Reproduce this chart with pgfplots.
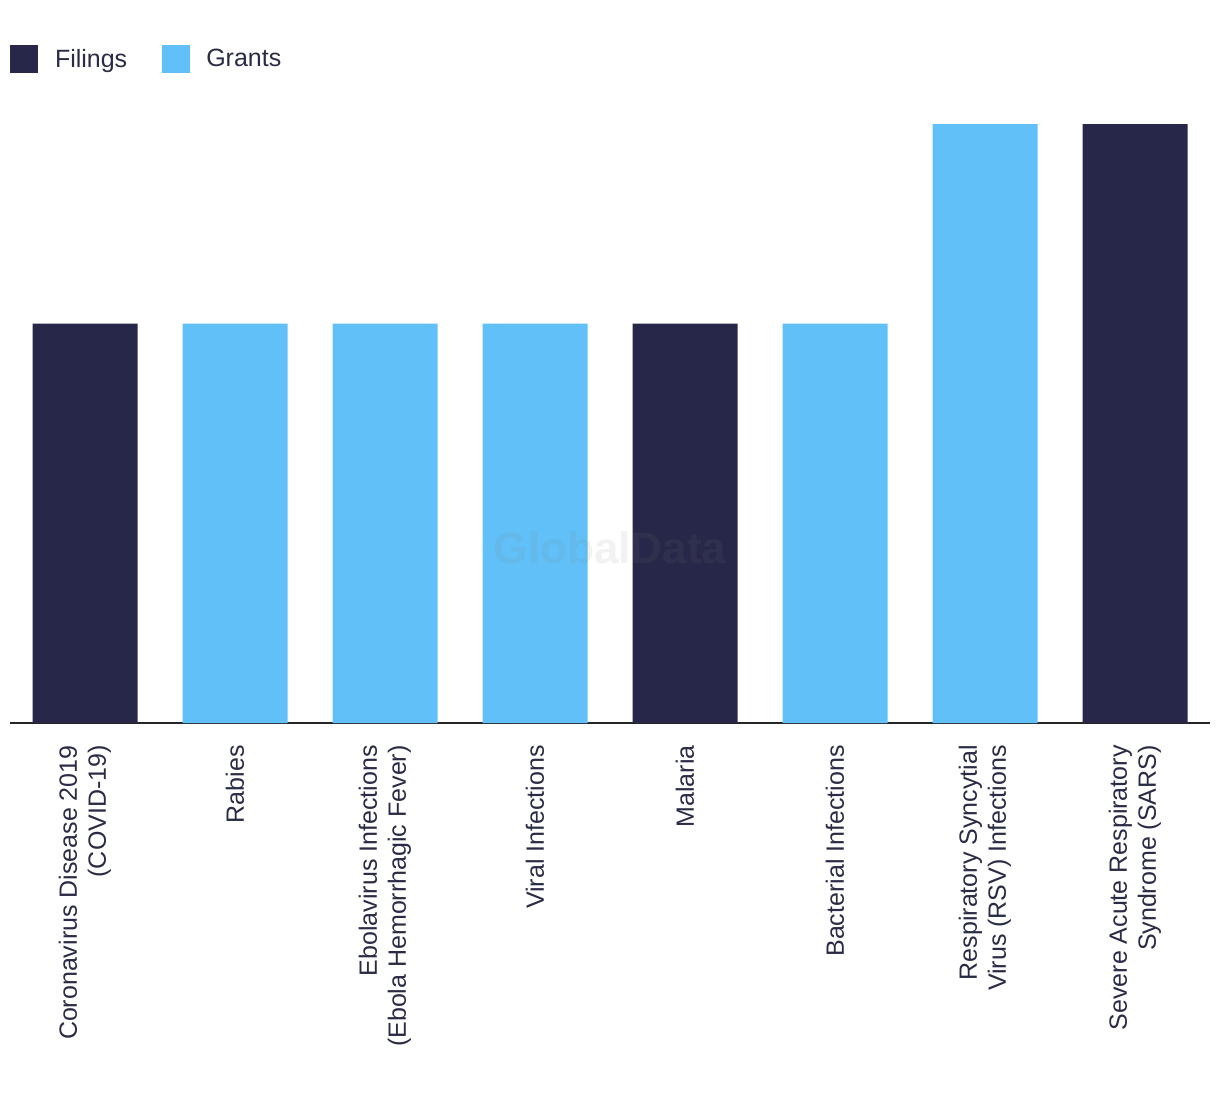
\documentclass[border=0pt]{standalone}
\usepackage{pgfplots}
\pgfplotsset{compat=1.18}
\usepackage{fontspec}
\setmainfont{Liberation Sans}
\definecolor{navy}{HTML}{272849}
\definecolor{sky}{HTML}{61C0F8}
\definecolor{txt}{HTML}{2A2B45}
\begin{document}
\begin{tikzpicture}
\begin{axis}[
  scale only axis, width=1200pt, height=599pt,
  ybar, bar width=0.7,
  xmin=-0.5, xmax=7.5, ymin=0, ymax=3,
  axis x line=bottom, axis y line=none,
  x axis line style={-, line width=2pt, color=black!85},
  xtick={0,...,7},
  xticklabels={{Coronavirus Disease 2019\\(COVID-19)},{Rabies},{Ebolavirus Infections\\(Ebola Hemorrhagic Fever)},{Viral Infections},{Malaria},{Bacterial Infections},{Respiratory Syncytial\\Virus (RSV) Infections},{Severe Acute Respiratory\\Syndrome (SARS)}},
  xtick style={draw=none},
  xticklabel style={rotate=90, anchor=east, align=right, font=\fontsize{25}{29}\selectfont, text=txt, inner sep=0pt, xshift=-20pt},
  legend style={at={(axis description cs:0,1)}, anchor=west, yshift=65pt, draw=none, fill=none, inner sep=0pt, outer sep=0pt,
    font=\fontsize{25}{30}\selectfont, text=txt,
    /tikz/every even column/.append style={column sep=35pt},
    nodes={inner sep=0pt, outer sep=0pt, text=txt}},
  legend columns=2,
  legend cell align=left,
  legend image code/.code={\fill[#1] (0pt,-14pt) rectangle (28pt,14pt);},
]
\addplot[fill=navy, draw=none, bar shift=0pt] coordinates {(0,2) (4,2) (7,3)};
\addplot[fill=sky, draw=none, bar shift=0pt] coordinates {(1,2) (2,2) (3,2) (5,2) (6,3)};
\legend{\hspace{17pt}Filings, \hspace{16pt}Grants}
\node[font=\bfseries\fontsize{44}{44}\selectfont, text=gray, opacity=0.1] at (rel axis cs:0.5,0.292) {GlobalData};
\end{axis}
\pgfresetboundingbox
\path ([xshift=-10pt,yshift=-371pt]current axis.south west) rectangle ([xshift=10pt,yshift=124pt]current axis.north east);
\end{tikzpicture}
\end{document}
